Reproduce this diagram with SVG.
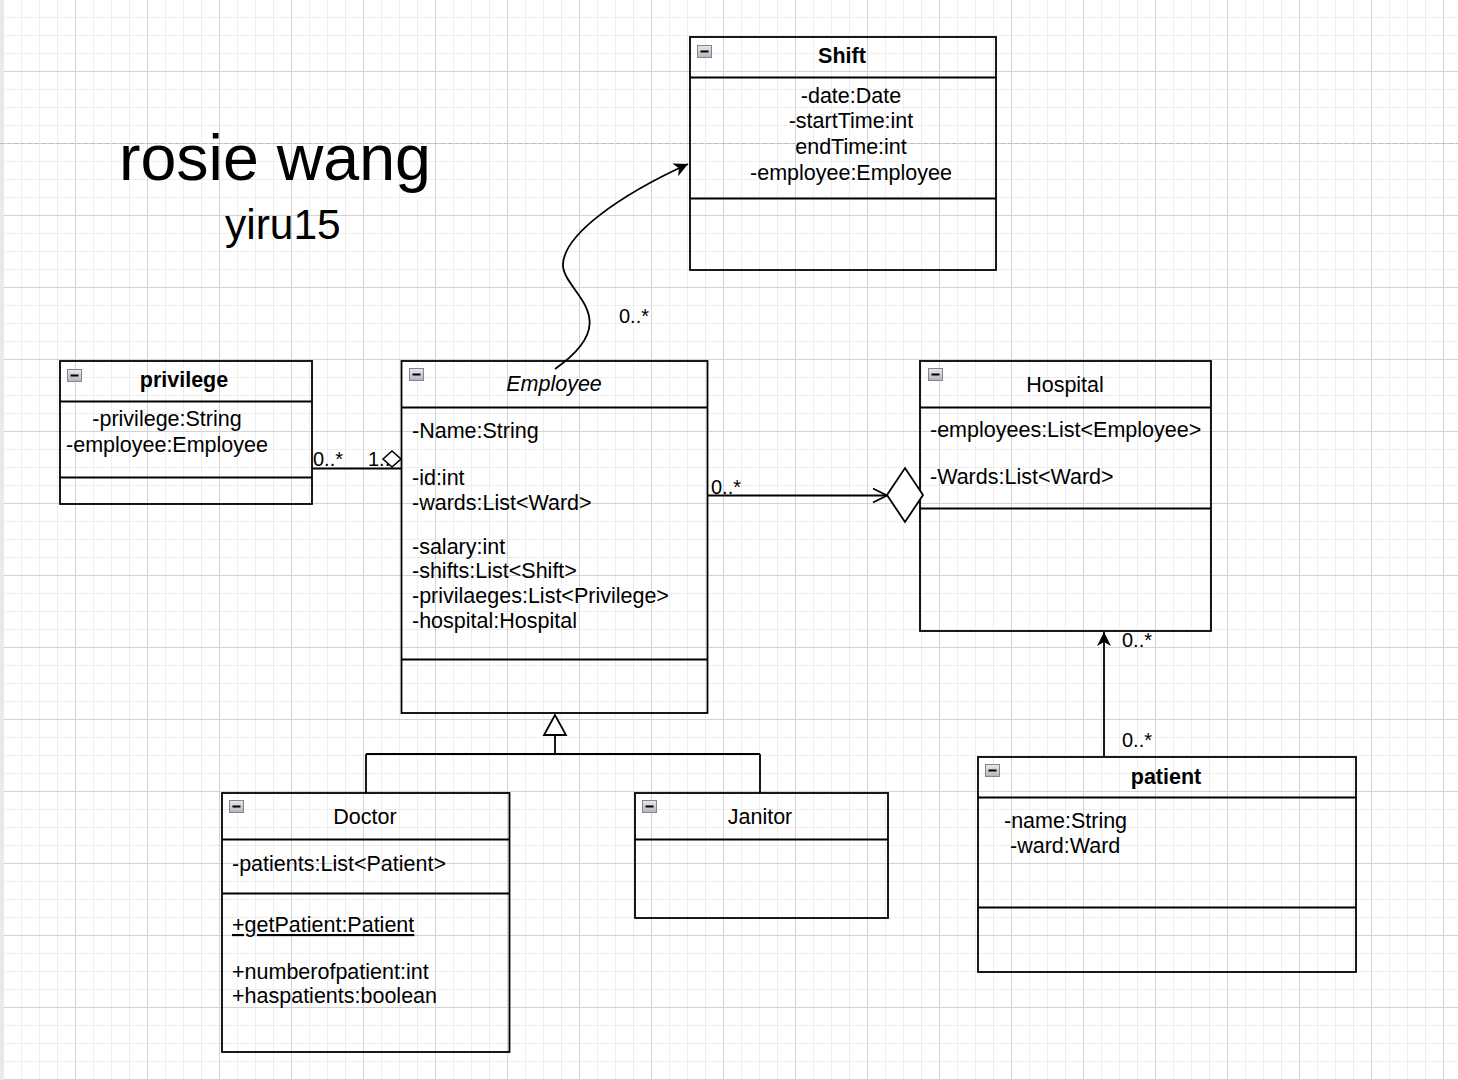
<svg xmlns="http://www.w3.org/2000/svg" width="1458" height="1080" viewBox="0 0 1458 1080">
<style>
text{font-family:"Liberation Sans",Arial,Helvetica,sans-serif;font-size:21.5px;fill:#000}
.box{fill:none;stroke:#000;stroke-width:1.8}
.sep{stroke:#000;stroke-width:1.8;fill:none}
.b{font-weight:bold}
.c{text-anchor:middle}
.lbl{font-size:20px}
.ln{fill:none;stroke:#000;stroke-width:1.8}
</style>
<defs>
<pattern id="grid" width="72" height="72" patternUnits="userSpaceOnUse" x="3" y="-1">
<path d="M18.5 0V72M36.5 0V72M54.5 0V72M0 18.5H72M0 36.5H72M0 54.5H72" stroke="#eeeeee" stroke-width="1" fill="none"/>
<path d="M0.5 0V72M0 0.5H72" stroke="#d3d3d3" stroke-width="1" fill="none"/>
</pattern>
<linearGradient id="ig" x1="0" y1="0" x2="0" y2="1">
<stop offset="0" stop-color="#e8e8ee"/><stop offset="1" stop-color="#b4b4be"/>
</linearGradient>
<g id="mini">
<rect x="0.5" y="0.5" width="14" height="12" fill="url(#ig)" stroke="#85858d" stroke-width="1"/>
<path d="M3.5 6.5H11.5" stroke="#000" stroke-width="2"/>
</g>
<marker id="arr" viewBox="-15 -8 16 16" refX="0" refY="0" markerWidth="16" markerHeight="16" markerUnits="userSpaceOnUse" orient="auto">
<path d="M0,0 L-14,-7 L-10,0 L-14,7 Z" fill="#000"/>
</marker>
</defs>
<rect width="1458" height="1080" fill="#fff"/>
<rect width="1458" height="1080" fill="url(#grid)"/>
<rect x="0" y="0" width="4" height="1080" fill="#e9e9e9"/>
<path d="M0 143.5H1458" stroke="#bcbcbc" stroke-width="1" stroke-dasharray="4 3"/>

<g id="title">
<text x="119" y="180" style="font-size:64.5px">rosie wang</text>
<text x="225" y="239" style="font-size:42.5px">yiru15</text>
</g>

<g id="shift">
<rect class="box" x="690" y="37" width="306" height="233"/>
<path class="sep" d="M690 77.5H996M690 198.5H996"/>
<use href="#mini" x="697" y="45"/>
<text class="b c" x="842" y="63">Shift</text>
<text class="c" x="851" y="103">-date:Date</text>
<text class="c" x="851" y="128">-startTime:int</text>
<text class="c" x="851" y="154">endTime:int</text>
<text class="c" x="851" y="180">-employee:Employee</text>
</g>

<g id="privilege">
<rect class="box" x="60" y="361" width="252" height="143"/>
<path class="sep" d="M60 401.5H312M60 477.5H312"/>
<use href="#mini" x="67" y="369"/>
<text class="b c" x="184" y="387">privilege</text>
<text class="c" x="167" y="426">-privilege:String</text>
<text class="c" x="167" y="452">-employee:Employee</text>
</g>

<g id="employee">
<rect class="box" x="401.5" y="361" width="306" height="352"/>
<path class="sep" d="M401.5 407.5H707.5M401.5 659.5H707.5"/>
<use href="#mini" x="409" y="368"/>
<text class="c" x="554" y="391" font-style="italic">Employee</text>
<text x="412" y="438">-Name:String</text>
<text x="412" y="485">-id:int</text>
<text x="412" y="510">-wards:List&lt;Ward&gt;</text>
<text x="412" y="554">-salary:int</text>
<text x="412" y="578">-shifts:List&lt;Shift&gt;</text>
<text x="412" y="603">-privilaeges:List&lt;Privilege&gt;</text>
<text x="412" y="628">-hospital:Hospital</text>
</g>

<g id="hospital">
<rect class="box" x="920" y="361" width="291" height="270"/>
<path class="sep" d="M920 407.5H1211M920 508.5H1211"/>
<use href="#mini" x="928" y="368"/>
<text class="c" x="1065" y="392">Hospital</text>
<text x="930" y="437">-employees:List&lt;Employee&gt;</text>
<text x="930" y="484">-Wards:List&lt;Ward&gt;</text>
</g>

<g id="doctor">
<rect class="box" x="222" y="793" width="287.5" height="259"/>
<path class="sep" d="M222 839.5H509.5M222 893.5H509.5"/>
<use href="#mini" x="229" y="800"/>
<text class="c" x="365" y="824">Doctor</text>
<text x="232" y="871">-patients:List&lt;Patient&gt;</text>
<text x="232" y="932" text-decoration="underline">+getPatient:Patient</text>
<text x="232" y="979">+numberofpatient:int</text>
<text x="232" y="1003">+haspatients:boolean</text>
</g>

<g id="janitor">
<rect class="box" x="635" y="793" width="253" height="125"/>
<path class="sep" d="M635 839.5H888"/>
<use href="#mini" x="642" y="800"/>
<text class="c" x="760" y="824">Janitor</text>
</g>

<g id="patient">
<rect class="box" x="978" y="757" width="378" height="215"/>
<path class="sep" d="M978 797.5H1356M978 907.5H1356"/>
<use href="#mini" x="985" y="764"/>
<text class="b c" x="1166" y="784">patient</text>
<text x="1004" y="828">-name:String</text>
<text x="1010" y="853">-ward:Ward</text>
</g>

<g id="connectors">
<path class="ln" d="M555 369 C628 318 563 292 563 265 C563 235 620 195 688 164" marker-end="url(#arr)"/>
<text class="lbl" x="619" y="323">0..*</text>

<path class="ln" d="M312 468.5H401"/>
<path d="M383 459 L392 451 L401 459 L392 467 Z" fill="#fff" stroke="#000" stroke-width="1.6"/>
<text class="lbl" x="313" y="466">0..*</text>
<text class="lbl" x="368" y="466">1..</text>

<path class="ln" d="M708 495.5H887"/>
<path class="ln" d="M873 488.5L887 495.5L873 502.5"/>
<path d="M887 495 L905 468 L923 495 L905 522 Z" fill="#fff" stroke="#000" stroke-width="1.8"/>
<text class="lbl" x="711" y="494">0..*</text>

<path class="ln" d="M1104 757V632" marker-end="url(#arr)"/>
<text class="lbl" x="1122" y="647">0..*</text>
<text class="lbl" x="1122" y="747">0..*</text>

<path d="M555 715 L544 735 L566 735 Z" fill="#fff" stroke="#000" stroke-width="1.8"/>
<path class="ln" d="M555 735V754M366 754H760M366 754V793M760 754V793"/>
</g>
</svg>
